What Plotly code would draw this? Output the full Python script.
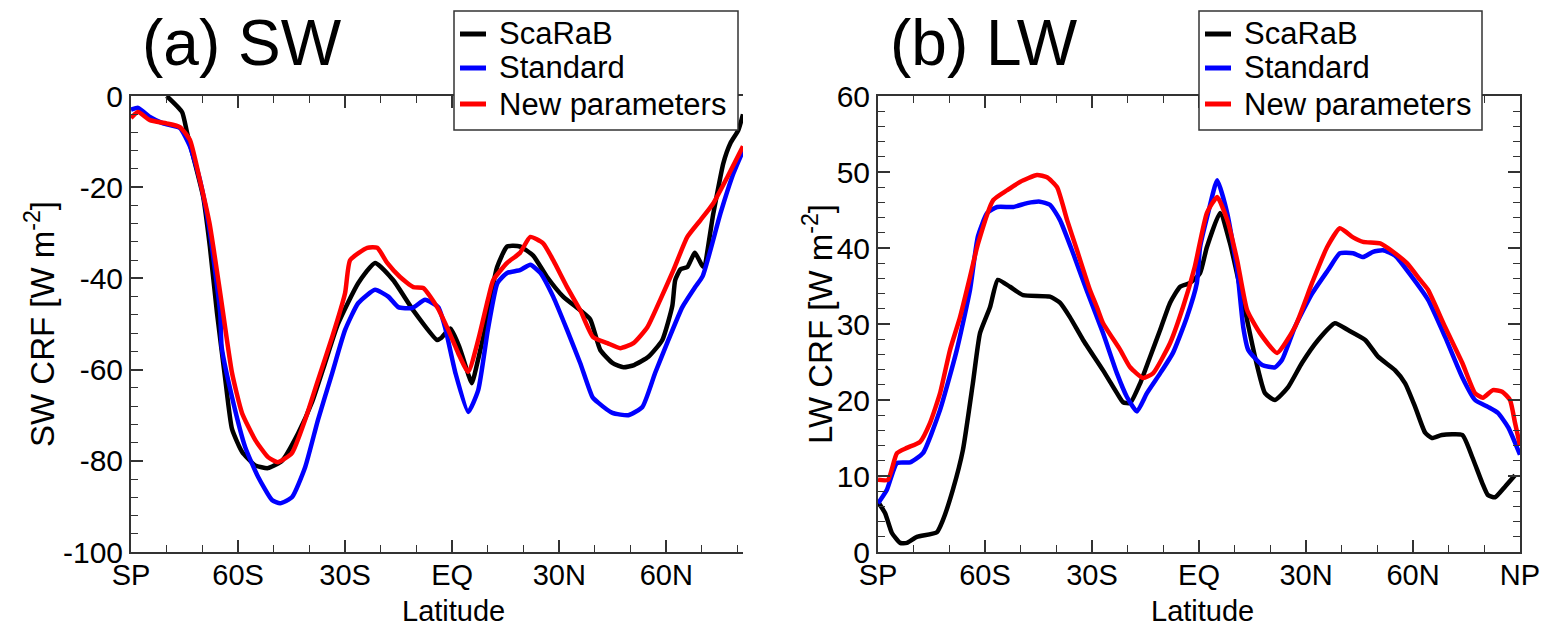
import plotly.graph_objects as go

# ---------------- data: SW panel ----------------
sw_scarab_lat = [-80, -75.7, -74.3, -69.8, -67.9, -65.9, -63.6, -61.7, -58.9, -55.2, -51.6, -47.7,
                 -43.2, -39.2, -35.6, -32, -26.3, -21.6, -16.5, -10.9, -4.2, -3, -0.5, 2, 4.5, 5.5,
                 7.5, 10, 11.2, 12.6, 15.4, 19, 22.7, 26.6, 31.1, 35.9, 38.7, 41.5, 45, 48, 51, 55,
                 58.9, 61.7, 62.5, 64, 65.9, 68, 70.4, 73.2, 76, 78, 80.2, 81.5]
sw_scarab_val = [0, -3.5, -8, -22, -33, -47.6, -62, -73, -78, -81, -81.6, -80,
                 -74, -67, -58.5, -50, -41, -36.6, -40.4, -47, -53.5, -53, -51, -55, -61, -63,
                 -57, -48, -42.5, -37.5, -33, -33, -35, -39.7, -44, -47, -49, -55.7, -58.6, -59.5, -59, -57.2,
                 -53.5, -46, -40.4, -38, -37.5, -34.4, -37.5, -25.7, -14.7, -10.3, -7.5, -4]

sw_std_lat = [-90, -88, -84.7, -81, -76.3, -73.5, -70.7, -68, -65, -64.6, -61.7, -58, -54.4, -50.5,
              -48.2, -44.9, -41.2, -37.6, -33.6, -30, -26.3, -21.6, -17.9, -15.1, -11.2, -7.6, -3.9,
              -2, 0.9, 4.5, 7.3, 10, 12.7, 15.4, 19, 21.9, 24.7, 28.3, 32.2, 35.9, 39.3, 41, 44.9,
              49.4, 53.3, 56.9, 60.6, 64.5, 68.1, 70.2, 75.2, 78.8, 81.5]
sw_std_val = [-3, -2.6, -4.6, -6, -7, -11, -18.4, -29.4, -47.6, -55, -66, -77, -83.5, -88.6,
              -89.3, -88, -81.4, -71, -60.7, -51.3, -45.4, -42.5, -44, -46.3, -46.5, -44.7, -46.3,
              -50.7, -60.7, -69.3, -64.5, -51.3, -41, -38.8, -38.2, -37, -38.8, -44, -51.3, -58.6, -66, -67.3, -69.5,
              -70, -68.2, -60.7, -53.5, -46.3, -41.9, -39.5, -25.7, -17, -12]

sw_new_lat = [-90, -88, -84.7, -80, -76.3, -73.5, -70.7, -68, -65, -61.7, -58.9, -55.2, -51.6, -48.8,
              -44.9, -41.2, -37.6, -33.6, -30, -28.6, -23.8, -21, -18.2, -14.6, -10.9, -8.1, -4.2,
              -1.1, 1.7, 4.5, 7.3, 10, 11.5, 15.4, 19, 21.9, 25.5, 28.3, 32.2, 35.9, 39.5, 43.5,
              47.1, 50.8, 54.7, 58.3, 62, 65.9, 69.6, 73.2, 77.1, 81.5]
sw_new_val = [-4.8, -3.5, -5.3, -6, -6.8, -9.6, -18.4, -27.9, -43.2, -60.7, -69.5, -75.4, -79.2, -80.3,
              -78.3, -71, -62.3, -52.8, -43.2, -36, -33.3, -33.3, -36.6, -39.7, -41.9, -42.1, -46.3,
              -51.3, -56.4, -60.5, -53.5, -44.7, -40.4, -36.6, -34.4, -30.9, -32.3, -36, -41.9, -47, -52.9, -54.2,
              -55.3, -54.2, -50.7, -44.7, -38.2, -30.9, -27.2, -23.5, -17.8, -11]

# ---------------- data: LW panel ----------------
lw_scarab_lat = [-90, -88, -86.1, -83.8, -81.9, -79.1, -73.5, -71.8, -69, -66.2, -63.4, -61.4, -58.6,
                 -56.4, -53, -49.3, -41.8, -39, -36.2, -32.5, -26.9, -23, -21.3, -19.3, -16.5, -13.7,
                 -10.9, -8.1, -5.3, -2.5, 0.3, 2.2, 5.9, 8.7, 12.9, 15.7, 18.5, 21.3, 25, 28.9, 33.4,
                 38.1, 41.8, 46.6, 50.2, 55, 57.8, 60.6, 63.4, 65.3, 68.1, 73.8, 76.6, 79.4, 81, 83,
                 85.8, 88.6]
lw_scarab_val = [6.6, 5.1, 2.5, 1.2, 1.2, 2, 2.6, 4.2, 8.2, 13.4, 22.2, 28.8, 32.2,
                 35.8, 34.9, 33.8, 33.6, 32.8, 30.9, 27.9, 23.9, 20.9, 19.7, 19.6, 22.2, 25.7,
                 29.2, 32.8, 34.9, 35.4, 36.7, 40.1, 44.6, 40.6, 31.8, 25.7, 20.9, 20, 21.7, 24.9, 27.9,
                 30.1, 29.2, 27.9, 25.7, 23.9, 22.2, 19.1, 15.7, 15, 15.4, 15.4, 12.5, 9.1, 7.5, 7.2,
                 8.6, 10.1]

lw_std_lat = [-90, -87.5, -84.7, -81, -77.4, -72.6, -67.9, -64.2, -62, -59.4, -56.6, -52.1, -48.2,
              -44.6, -41.8, -39, -35.3, -31.4, -26.9, -23, -20.2, -17.4, -14.6, -10.9, -7.3, -3.4,
              -0.6, 0.3, 2.5, 5.1, 7.9, 10.7, 12.4, 13.8, 17.7, 21.3, 23.3, 26.9, 31.7, 36.2, 39.5,
              43.2, 46, 48.8, 51.6, 55, 59.7, 64.2, 69, 73.8, 77.4, 81, 83.8, 86.7, 90]
lw_std_val = [6.4, 8.2, 11.7, 11.8, 13, 18.7, 26.6, 34.5, 41.5, 44.6, 45.4, 45.4, 45.9,
              46.1, 45.7, 43.7, 39.3, 34.3, 28.8, 23.5, 20.4, 18.5, 20.9, 23.5, 26.2, 30.9,
              35.4, 40.1, 44.5, 48.9, 44.6, 37.1, 29.6, 26.6, 24.6, 24.3, 25.3, 29.6, 34, 37.1, 39.3,
              39.3, 38.8, 39.5, 39.7, 39, 36.2, 33.2, 28.3, 23, 20, 19.1, 18.3, 16.4, 12.8]

lw_new_lat = [-90, -87.2, -84.7, -81.9, -78.2, -75.4, -72.6, -69.8, -67, -64.2, -62, -57.7, -53.8,
              -50.2, -45.4, -42.6, -39.8, -37, -34.2, -30.6, -28.6, -26.9, -22.1, -19.3, -15.7, -12.9,
              -8.1, -4.5, -1.2, 2.2, 5.1, 7.9, 10.7, 13.5, 17.1, 21.9, 26.9, 31.7, 35.9, 39.5, 43.2,
              46, 50.8, 54.4, 58.3, 62, 64.2, 69, 73.8, 77.4, 79.6, 82.4, 85, 87.2, 88.6, 90]
lw_new_val = [9.5, 9.5, 13, 13.7, 14.5, 17, 20.9, 26.6, 30.9, 36.2, 40.5, 46.3, 47.6,
              48.7, 49.6, 49.3, 48, 43.7, 39.7, 34.5, 32.2, 30.1, 26.6, 24.3, 22.9, 23.5,
              27.5, 32.2, 37.5, 44.6, 46.7, 43.7, 38.4, 31.8, 28.8, 26.2, 29.6, 35.4, 40.1, 42.6, 41.4,
              40.8, 40.6, 39.5, 38, 35.8, 34.5, 29.6, 24.9, 20.9, 20.3, 21.3, 21.1, 20, 17, 14]

series_names = ["ScaRaB", "Standard", "New parameters"]
series_colors = ["#000000", "#0000ff", "#ff0000"]

x_tickvals = [-90, -60, -30, 0, 30, 60, 90]
x_ticktext = ["SP", "60S", "30S", "EQ", "30N", "60N", "NP"]
sw_tickvals = [-100, -80, -60, -40, -20, 0]
sw_ticktext = ["-100", "-80", "-60", "-40", "-20", "0"]
lw_tickvals = [0, 10, 20, 30, 40, 50, 60]
lw_ticktext = ["0", "10", "20", "30", "40", "50", "60"]

FONT = "Liberation Sans, Arial, sans-serif"
W, H = 1552, 627

fig = go.Figure()
sw_data = [(sw_scarab_lat, sw_scarab_val), (sw_std_lat, sw_std_val), (sw_new_lat, sw_new_val)]
lw_data = [(lw_scarab_lat, lw_scarab_val), (lw_std_lat, lw_std_val), (lw_new_lat, lw_new_val)]
for (xs, ys), name, col in zip(sw_data, series_names, series_colors):
    fig.add_trace(go.Scatter(x=xs, y=ys, mode="lines", name=name, showlegend=False,
                             line=dict(color=col, width=4.5, shape="spline", smoothing=0.5),
                             xaxis="x", yaxis="y"))
for (xs, ys), name, col in zip(lw_data, series_names, series_colors):
    fig.add_trace(go.Scatter(x=xs, y=ys, mode="lines", name=name, showlegend=False,
                             line=dict(color=col, width=4.5, shape="spline", smoothing=0.5),
                             xaxis="x2", yaxis="y2"))

px = lambda p: p / W
py = lambda p: 1 - p / H

axcol = "#333333"
common_x = dict(tickmode="array", tickvals=x_tickvals, ticktext=x_ticktext, automargin=False,
                ticks="inside", ticklen=12, tickwidth=1.5, tickcolor=axcol,
                showline=True, linecolor=axcol, linewidth=2, showgrid=False, zeroline=False,
                tickfont=dict(family=FONT, size=29, color="black"), ticklabelstandoff=-4,
                minor=dict(tickmode="linear", tick0=-90, dtick=10, ticks="inside", ticklen=7,
                           tickwidth=1.2, tickcolor=axcol))
common_y = dict(tickmode="array", ticks="inside", ticklen=12, tickwidth=1.5, tickcolor=axcol,
                automargin=False,
                showline=True, linecolor=axcol, linewidth=2, showgrid=False, zeroline=False,
                tickfont=dict(family=FONT, size=30, color="black"), ticklabelstandoff=0)

fig.update_layout(
    width=W, height=H, margin=dict(l=0, r=0, t=0, b=0, autoexpand=False),
    paper_bgcolor="white", plot_bgcolor="white", showlegend=False,
    font=dict(family=FONT, color="black"),
    xaxis=dict(common_x, domain=[px(131), px(743)], range=[-90, 81.5], mirror="allticks", anchor="y"),
    yaxis=dict(common_y, domain=[1 - 552 / H, 1 - 96 / H], range=[-100, 0],
               tickvals=sw_tickvals, ticktext=sw_ticktext, anchor="x",
               minor=dict(tickmode="linear", tick0=0, dtick=4, ticks="inside", ticklen=7,
                          tickwidth=1.2, tickcolor=axcol)),
    xaxis2=dict(common_x, domain=[px(878), px(1520)], range=[-90, 90], mirror="allticks", anchor="y2"),
    yaxis2=dict(common_y, domain=[1 - 552 / H, 1 - 96 / H], range=[0, 60],
                tickvals=lw_tickvals, ticktext=lw_ticktext, anchor="x2", mirror="allticks",
                minor=dict(tickmode="linear", tick0=0, dtick=2, ticks="inside", ticklen=7,
                           tickwidth=1.2, tickcolor=axcol)),
)

shapes = []
ann = []

# manual legends (box, line samples, labels)
legend_rows = [34, 68, 104]
for bx0, bx1 in [(454, 738), (1199, 1482)]:
    shapes.append(dict(type="rect", xref="paper", yref="paper", layer="above",
                       x0=px(bx0), x1=px(bx1), y0=py(130), y1=py(11),
                       line=dict(color=axcol, width=1.5), fillcolor="white"))
    for name, col, ry in zip(series_names, series_colors, legend_rows):
        shapes.append(dict(type="line", xref="paper", yref="paper", layer="above",
                           x0=px(bx0 + 6), x1=px(bx0 + 32), y0=py(ry), y1=py(ry),
                           line=dict(color=col, width=5)))
        ann.append(dict(text=name, x=px(bx0 + 43), y=py(ry), xref="paper", yref="paper",
                        xanchor="left", yanchor="middle", showarrow=False,
                        font=dict(family=FONT, size=31, color="black")))

ann.append(dict(text="(a) SW", x=px(140), y=py(43), xref="paper", yref="paper",
                xanchor="left", yanchor="middle", showarrow=False,
                font=dict(family=FONT, size=64, color="black")))
ann.append(dict(text="(b) LW", x=px(888), y=py(43), xref="paper", yref="paper",
                xanchor="left", yanchor="middle", showarrow=False,
                font=dict(family=FONT, size=64, color="black")))
ann.append(dict(text="SW CRF [W m<sup>-2</sup>]", x=px(40), y=py(324), xref="paper", yref="paper",
                xanchor="center", yanchor="middle", showarrow=False, textangle=-90,
                font=dict(family=FONT, size=33, color="black")))
ann.append(dict(text="LW CRF [W m<sup>-2</sup>]", x=px(818), y=py(324), xref="paper", yref="paper",
                xanchor="center", yanchor="middle", showarrow=False, textangle=-90,
                font=dict(family=FONT, size=33, color="black")))
ann.append(dict(text="Latitude", x=px(453), y=py(611), xref="paper", yref="paper",
                xanchor="center", yanchor="middle", showarrow=False,
                font=dict(family=FONT, size=29, color="black")))
ann.append(dict(text="Latitude", x=px(1202), y=py(611), xref="paper", yref="paper",
                xanchor="center", yanchor="middle", showarrow=False,
                font=dict(family=FONT, size=29, color="black")))
fig.update_layout(annotations=ann, shapes=shapes)

fig.write_html("out.html", config={"displayModeBar": False},
               post_script="document.body.style.margin='0px';document.body.style.overflow='hidden';")
